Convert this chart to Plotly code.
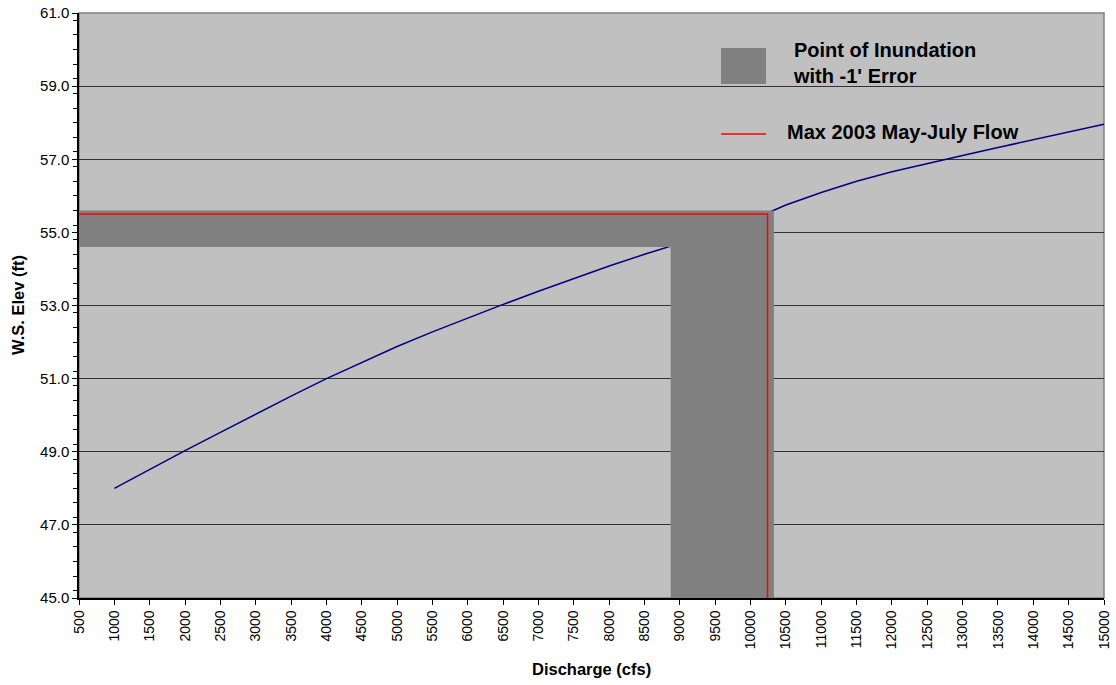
"""Rating curve with point of inundation and max 2003 May-July flow."""

import plotly.graph_objects as go

# rating curve (discharge in cfs, water surface elevation in ft)
discharge = [1000, 1500, 2000, 2500, 3000, 3500, 4000, 4500, 5000, 5500,
             6000, 6500, 7000, 7500, 8000, 8500, 9000, 9500, 10000, 10500,
             11000, 11500, 12000, 12500, 13000, 13500, 14000, 14500, 15000]
ws_elev = [48.00, 48.52, 49.03, 49.53, 50.03, 50.52, 51.00, 51.45, 51.88, 52.28,
           52.66, 53.03, 53.39, 53.74, 54.08, 54.40, 54.70, 55.00, 55.33, 55.75,
           56.09, 56.40, 56.66, 56.89, 57.10, 57.32, 57.53, 57.75, 57.96]

# point of inundation band (-1' error)
inund_q = [8870, 10330]
inund_elev = [54.6, 55.6]

# max 2003 May-July flow
max_q = 10240
max_elev = 55.5

x_min, x_max = 500, 15000
y_min, y_max = 45, 61
x_ticks = [500, 1000, 1500, 2000, 2500, 3000, 3500, 4000, 4500, 5000,
           5500, 6000, 6500, 7000, 7500, 8000, 8500, 9000, 9500, 10000,
           10500, 11000, 11500, 12000, 12500, 13000, 13500, 14000, 14500, 15000]

FONT = "Liberation Sans, Arial, sans-serif"

# plot area in pixels (for legend placement)
L, R, T, B = 79, 1104, 13, 598


def px(x):
    return (x - L) / (R - L)


def py(y):
    return (B - y) / (B - T)


fig = go.Figure()

fig.add_trace(go.Scatter(
    x=discharge, y=ws_elev, mode="lines",
    line=dict(color="#000080", width=1.5), showlegend=False,
))

# L-shaped band: horizontal strip from the y axis, vertical strip to the x axis
band_x = [x_min, inund_q[1], inund_q[1], inund_q[0], inund_q[0], x_min, x_min]
band_y = [inund_elev[1], inund_elev[1], y_min, y_min, inund_elev[0], inund_elev[0], inund_elev[1]]
fig.add_trace(go.Scatter(
    x=band_x, y=band_y, mode="lines", fill="toself",
    fillcolor="#808080", line=dict(width=0), showlegend=False,
))

fig.add_trace(go.Scatter(
    x=[x_min, max_q, max_q], y=[max_elev, max_elev, y_min], mode="lines",
    line=dict(color="#FF0000", width=1.5), showlegend=False,
))

# hand-made legend
fig.add_shape(type="rect", xref="paper", yref="paper",
              x0=px(721), x1=px(766), y0=py(84), y1=py(48),
              fillcolor="#808080", line=dict(width=0))
fig.add_shape(type="line", xref="paper", yref="paper",
              x0=px(721), x1=px(766), y0=py(134), y1=py(134),
              line=dict(color="#FF0000", width=1.5))
fig.add_annotation(xref="paper", yref="paper", x=px(791), y=py(63),
                   xanchor="left", yanchor="middle", align="left", showarrow=False,
                   text="<b>Point of Inundation<br>with -1' Error</b>",
                   font=dict(family=FONT, size=20, color="black"))
fig.add_annotation(xref="paper", yref="paper", x=px(785), y=py(132),
                   xanchor="left", yanchor="middle", align="left", showarrow=False,
                   text="<b>Max 2003 May-July Flow</b>",
                   font=dict(family=FONT, size=20, color="black"))

# axis titles
fig.add_annotation(xref="paper", yref="paper", x=px(591), y=py(669),
                   xanchor="center", yanchor="middle", showarrow=False,
                   text="<b>Discharge (cfs)</b>", font=dict(family=FONT, size=16.5, color="black"))
fig.add_annotation(xref="paper", yref="paper", x=px(18), y=py(305),
                   xanchor="center", yanchor="middle", showarrow=False, textangle=-90,
                   text="<b>W.S. Elev (ft)</b>", font=dict(family=FONT, size=16.5, color="black"))

# plot area border
fig.add_shape(type="rect", xref="paper", yref="paper", x0=0, x1=1, y0=0, y1=1,
              line=dict(color="#808080", width=1.5), layer="below")

fig.update_layout(
    width=1116, height=685,
    margin=dict(l=L, r=1116 - R, t=T, b=685 - B),
    paper_bgcolor="white", plot_bgcolor="#C0C0C0",
    font=dict(family=FONT, size=14, color="black"),
    xaxis=dict(
        range=[x_min, x_max], tickvals=x_ticks, ticktext=[str(v) for v in x_ticks],
        tickangle=-90, tickfont=dict(size=14), automargin=False,
        showgrid=False, zeroline=False,
        showline=True, linecolor="black", linewidth=1.5,
        ticks="outside", ticklen=5, tickcolor="black",
    ),
    yaxis=dict(
        range=[y_min, y_max], dtick=2, tick0=45, tickformat=".1f",
        tickfont=dict(size=15), automargin=False,
        showgrid=True, gridcolor="#333333", gridwidth=1, zeroline=False,
        showline=True, linecolor="black", linewidth=1.5,
        ticks="outside", ticklen=5, tickcolor="black",
        minor=dict(dtick=0.4, ticks="outside", ticklen=4, tickcolor="black", showgrid=False),
    ),
)

# drop the default page margin so the figure sits at the window's top-left
fig.write_html("out.html", config={"displayModeBar": False},
               post_script="document.body.style.margin='0';")
